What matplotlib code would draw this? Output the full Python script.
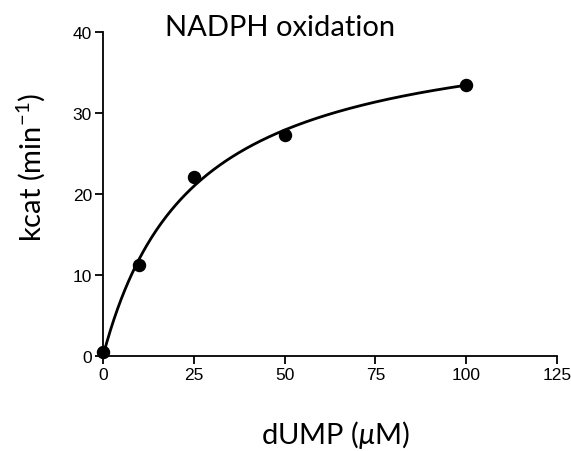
import numpy as np
import matplotlib
matplotlib.use("Agg")
import matplotlib.pyplot as plt

# Measured turnover vs dUMP concentration
dump_uM = [0, 10, 25, 50, 100]
kcat = [0.5, 11.2, 22.1, 27.3, 33.5]

x_ticks = [0, 25, 50, 75, 100, 125]
y_ticks = [0, 10, 20, 30, 40]

# Michaelis-Menten fit by least squares over a parameter grid
xd = np.array(dump_uM, float)
yd = np.array(kcat, float)
best = None
for km in np.linspace(5, 60, 1101):
    f = xd / (km + xd)
    vmax = (f @ yd) / (f @ f)
    sse = np.sum((yd - vmax * f) ** 2)
    if best is None or sse < best[0]:
        best = (sse, vmax, km)
_, vmax_fit, km_fit = best

plt.rcParams["mathtext.fontset"] = "custom"
plt.rcParams["mathtext.rm"] = "Lato"
plt.rcParams["mathtext.it"] = "Lato:italic"

fig = plt.figure(figsize=(5.71, 4.52), dpi=100)
ax = fig.add_axes([103 / 571, 1 - 357 / 452, 454 / 571, 324 / 452])

xc = np.linspace(0, 100, 300)
ax.plot(xc, vmax_fit * xc / (km_fit + xc), color="black", lw=2, zorder=2)
ax.scatter(dump_uM, kcat, s=75, color="black", zorder=3, clip_on=False)

ax.set_xlim(0, 125)
ax.set_ylim(0, 40)
ax.set_xticks(x_ticks)
ax.set_yticks(y_ticks)
for s in ["top", "right"]:
    ax.spines[s].set_visible(False)
for s in ["left", "bottom"]:
    ax.spines[s].set_linewidth(1.3)
ax.tick_params(direction="out", length=6, width=1.3, labelsize=12.5, pad=2)
for lab in ax.get_xticklabels() + ax.get_yticklabels():
    lab.set_family("Liberation Sans")

label_font = dict(family="Lato", fontsize=21)
fig.text(280 / 571, 1 - 28 / 452, "NADPH oxidation", ha="center", va="center", **label_font)
fig.text(336 / 571, 1 - 435 / 452, r"dUMP ($\mu$M)", ha="center", va="center", **label_font)
fig.text(31 / 571, 1 - 167 / 452, r"kcat (min$^{\mathregular{-1}}$)", ha="center", va="center",
         rotation=90, **label_font)

fig.savefig("out.png", dpi=100)
